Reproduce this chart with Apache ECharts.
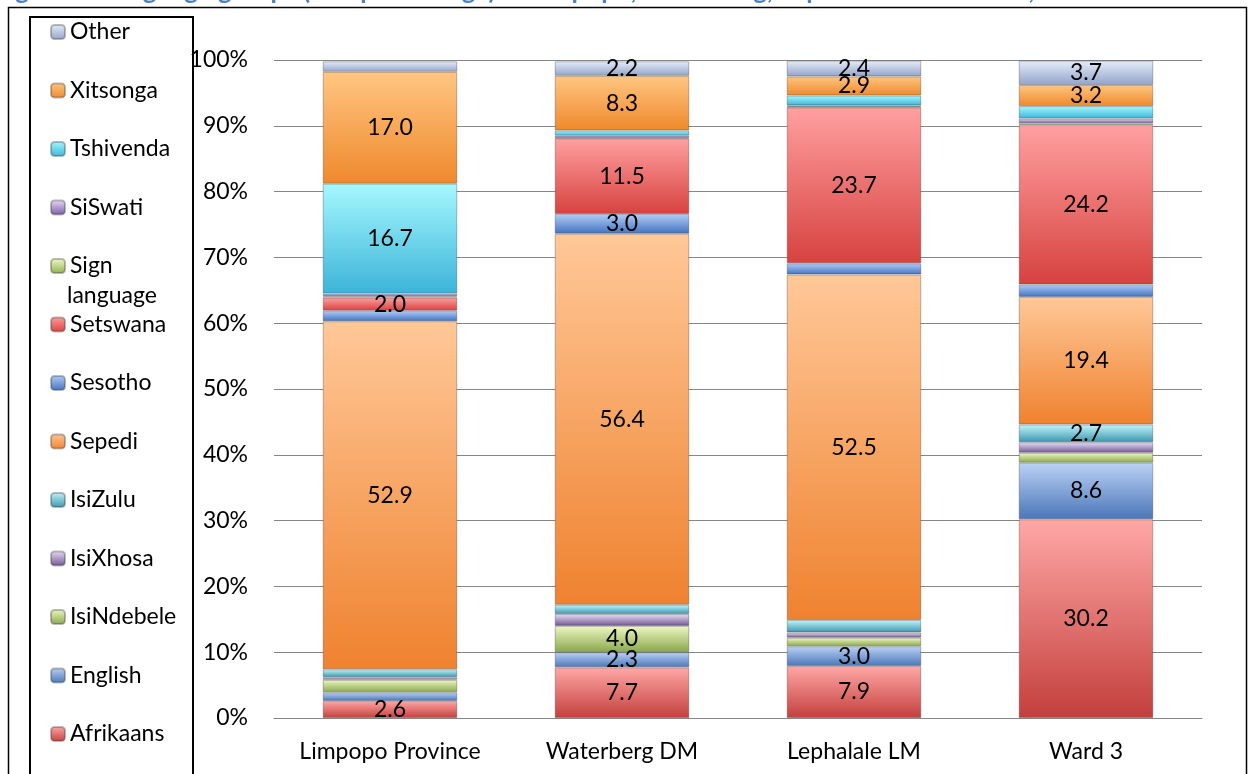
<!DOCTYPE html>
<html>
<head>
<meta charset="utf-8">
<title>Language groups</title>
<script src="https://cdn.jsdelivr.net/npm/echarts@6/dist/echarts.min.js"></script>
<style>
  html, body { margin: 0; padding: 0; background: #ffffff; }
  #chart { width: 1250px; height: 774px; }
</style>
</head>
<body>
<div id="chart"></div>
<script>
// Areas along the horizontal axis
const categories = ['Limpopo Province', 'Waterberg DM', 'Lephalale LM', 'Ward 3'];

// Share of population (%) per home language, one value per area
const afrikaans    = [2.6, 7.7, 7.9, 30.2];
const english      = [1.3, 2.3, 3.0, 8.6];
const isiNdebele   = [1.9, 4.0, 1.3, 1.5];
const isiXhosa     = [0.4, 1.8, 0.8, 1.6];
const isiZulu      = [1.2, 1.4, 1.9, 2.7];
const sepedi       = [52.9, 56.4, 52.5, 19.4];
const sesotho      = [1.6, 3.0, 1.7, 1.9];
const setswana     = [2.0, 11.5, 23.7, 24.2];
const signLanguage = [0.2, 0.1, 0.1, 0.3];
const siSwati      = [0.4, 0.3, 0.2, 0.7];
const tshivenda    = [16.7, 0.8, 1.5, 1.9];
const xitsonga     = [17.0, 8.3, 2.9, 3.2];
const other        = [1.6, 2.2, 2.4, 3.7];

// Value axis tick labels
const yTicks = ['0%', '10%', '20%', '30%', '40%', '50%', '60%', '70%', '80%', '90%', '100%'];

const languages = [
  { name: 'Afrikaans',     data: afrikaans,    top: '#ffa8a6', bottom: '#c33f3c' },
  { name: 'English',       data: english,      top: '#bcd2f6', bottom: '#4a76b8' },
  { name: 'IsiNdebele',    data: isiNdebele,   top: '#eef8c4', bottom: '#89a74b' },
  { name: 'IsiXhosa',      data: isiXhosa,     top: '#eadff7', bottom: '#6f5592' },
  { name: 'IsiZulu',       data: isiZulu,      top: '#c4f6fc', bottom: '#3a96ae' },
  { name: 'Sepedi',        data: sepedi,       top: '#ffc898', bottom: '#ef822f' },
  { name: 'Sesotho',       data: sesotho,      top: '#b2cef8', bottom: '#4272bf' },
  { name: 'Setswana',      data: setswana,     top: '#ffa0a0', bottom: '#d6423f' },
  { name: 'Sign language', data: signLanguage, top: '#f4fcc8', bottom: '#8fae50' },
  { name: 'SiSwati',       data: siSwati,      top: '#ece0fa', bottom: '#77589f' },
  { name: 'Tshivenda',     data: tshivenda,    top: '#a6f8ff', bottom: '#3cb4d8' },
  { name: 'Xitsonga',      data: xitsonga,     top: '#ffc682', bottom: '#ef892c' },
  { name: 'Other',         data: other,        top: '#e6edfa', bottom: '#93a3c8' }
];

const FONT = 'Lato, "Open Sans", sans-serif';

const series = languages.map(function (lang) {
  return {
    name: lang.name,
    type: 'bar',
    stack: 'total',
    barWidth: '58%',
    data: lang.data,
    itemStyle: {
      color: new echarts.graphic.LinearGradient(0, 0, 0, 1, [
        { offset: 0, color: lang.top },
        { offset: 1, color: lang.bottom }
      ]),
      borderColor: 'rgba(60,60,60,0.35)',
      borderWidth: 1
    },
    label: {
      show: true,
      position: 'inside',
      color: '#000',
      fontFamily: FONT,
      fontSize: 23,
      formatter: function (p) { return p.value >= 2 ? p.value.toFixed(1) : ''; }
    },
    emphasis: { disabled: true }
  };
});

const chart = echarts.init(document.getElementById('chart'), null, { renderer: 'canvas' });

chart.setOption({
  animation: false,
  backgroundColor: '#ffffff',
  textStyle: { fontFamily: FONT },
  grid: { left: 274, right: 48, top: 60, bottom: 56 },
  legend: {
    orient: 'vertical',
    left: 45,
    top: 15,
    itemWidth: 14,
    itemHeight: 14,
    itemGap: 34.5,
    data: languages.map(function (l) { return l.name; }).reverse(),
    textStyle: { fontFamily: FONT, fontSize: 23, lineHeight: 24, color: '#000' },
    formatter: function (name) { return name === 'Sign language' ? 'Sign' : name; },
    selectedMode: false
  },
  xAxis: {
    type: 'category',
    data: categories,
    axisLine: { lineStyle: { color: '#868686', width: 1 } },
    axisTick: { show: false },
    axisLabel: { color: '#000', fontFamily: FONT, fontSize: 23, margin: 22, interval: 0 }
  },
  yAxis: {
    type: 'value',
    min: 0,
    max: 100,
    interval: 10,
    axisLine: { show: false },
    axisTick: { show: false },
    splitLine: { lineStyle: { color: '#868686', width: 1 } },
    axisLabel: {
      color: '#000',
      fontFamily: FONT,
      fontSize: 23,
      margin: 26,
      formatter: function (v) { return yTicks[Math.round(v / 10)]; }
    }
  },
  graphic: [
    // outer frame
    { type: 'rect', shape: { x: 8.5, y: 7.5, width: 1238, height: 800 },
      style: { fill: 'none', stroke: '#000', lineWidth: 1.5 }, silent: true },
    // legend box
    { type: 'rect', shape: { x: 30, y: 17, width: 163, height: 800 },
      style: { fill: 'none', stroke: '#000', lineWidth: 2 }, silent: true },
    // second line of the "Sign language" legend entry
    { type: 'text', x: 67, y: 284,
      style: { text: 'language', font: '23px ' + FONT, fill: '#000' }, silent: true },
    // caption above the chart frame, mostly cropped by the top edge
    { type: 'text', x: -6, y: -22,
      style: { text: 'Figure 3: Language groups (as a percentage) in Limpopo, Waterberg, Lephalale and Ward 3, 2011', font: 'bold 26px ' + FONT, fill: '#4f81bd' }, silent: true }
  ],
  series: series
});
</script>
</body>
</html>
